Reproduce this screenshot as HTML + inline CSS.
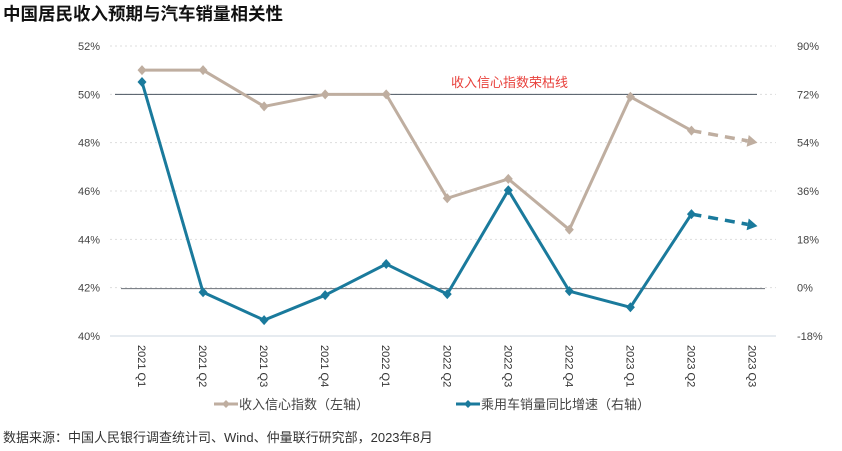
<!DOCTYPE html>
<html><head><meta charset="utf-8">
<style>
body{margin:0;background:#fff;width:842px;height:446px;overflow:hidden;font-family:"Liberation Sans","Noto Sans CJK SC",sans-serif;}
svg text{font-family:"Liberation Sans","Noto Sans CJK SC",sans-serif;}
</style></head>
<body>
<svg id="chart" width="842" height="446" viewBox="0 0 842 446" xmlns="http://www.w3.org/2000/svg">
<text x="3" y="20" font-size="17.5" font-weight="bold" fill="#111">中国居民收入预期与汽车销量相关性</text>
<g id="grid"></g><g id="axes"></g><g id="series"></g>
<text x="451" y="87" font-size="13" fill="#e8413c">收入信心指数荣枯线</text>
<g>
<g>
<line x1="214" y1="404" x2="238" y2="404" stroke="#bfaea0" stroke-width="3"/>
<path d="M226 400 L230 404 L226 408 L222 404Z" fill="#bfaea0"/>
<text x="239" y="409" font-size="13" fill="#444">收入信心指数（左轴）</text></g>
<g>
<line x1="456" y1="404" x2="480" y2="404" stroke="#1a7a9c" stroke-width="3"/>
<path d="M468 400 L472 404 L468 408 L464 404Z" fill="#1a7a9c"/>
<text x="481" y="409" font-size="13" fill="#444">乘用车销量同比增速（右轴）</text></g>
</g>
<text x="3" y="442" font-size="13" fill="#333">数据来源：中国人民银行调查统计司、Wind、仲量联行研究部，2023年8月</text>
</svg>
<script>
const categories=["2021 Q1","2021 Q2","2021 Q3","2021 Q4","2022 Q1","2022 Q2","2022 Q3","2022 Q4","2023 Q1","2023 Q2","2023 Q3"];
const incomeIndex=[51.0,51.0,49.5,50.0,50.0,45.7,46.5,44.4,49.9,48.5,48.0];
const carSalesYoY=[76.6,-1.7,-12.1,-2.8,8.8,-2.4,36.3,-1.3,-7.3,27.4,22.9];
const leftTicks=[40,42,44,46,48,50,52];
const rightTicks=[-18,0,18,36,54,72,90];
const forecastStart=9;
const NS="http://www.w3.org/2000/svg";
const yTop=46,yBot=336,x0=142,xStep=61.05;
const xS=i=>x0+i*xStep;
const yL=v=>yBot-(v-40)/12*(yBot-yTop);
const yR=v=>yBot-(v+18)/108*(yBot-yTop);
function mk(t,a,p){const e=document.createElementNS(NS,t);for(const k in a)e.setAttribute(k,a[k]);p.appendChild(e);return e;}
const grid=document.getElementById('grid'),axes=document.getElementById('axes'),ser=document.getElementById('series');
leftTicks.forEach((v,i)=>{
 const y=yL(v);
 if(i>0){const g=mk('line',{x1:110,x2:776,y1:y,y2:y,stroke:'#ddd','stroke-dasharray':'2,3'},grid);
 
 }
 const t=mk('text',{x:100,y:y+4,'font-size':11,fill:'#444','text-anchor':'end'},axes);t.textContent=v+'%';
 
 
});
rightTicks.forEach(v=>{
 const t=mk('text',{x:797,y:yR(v)+4,'font-size':11,fill:'#444'},axes);t.textContent=v+'%';
 
 
});
const base=mk('line',{x1:110,x2:776,y1:yBot,y2:yBot,stroke:'#e6ebf0','stroke-width':2},axes);


const l50=mk('line',{x1:115,x2:757,y1:yL(50),y2:yL(50),stroke:'#4a5560','stroke-width':1},axes);


const l0=mk('line',{x1:121,x2:765,y1:yR(0)+1,y2:yR(0)+1,stroke:'#6b7178','stroke-width':1},axes);


categories.forEach((c,i)=>{
 const t=mk('text',{x:0,y:0,'font-size':11,fill:'#333',transform:`translate(${xS(i)-4},345) rotate(90)`},axes);t.textContent=c;
 
 
});
function draw(vals,yf,color,name){
 const pts=vals.map((v,i)=>[xS(i),yf(v)]);
 const solid=pts.slice(0,forecastStart+1).map(p=>p.join(',')).join(' ');
 const pl=mk('polyline',{points:solid,fill:'none',stroke:color,'stroke-width':3,'stroke-linejoin':'round'},ser);
 
 
 const a=pts[forecastStart],b=[pts[forecastStart+1][0]+5,pts[forecastStart+1][1]];
 const dx=b[0]-a[0],dy=b[1]-a[1],L=Math.hypot(dx,dy),ux=dx/L,uy=dy/L;
 const ex=b[0]-ux*10,ey=b[1]-uy*10;
 const dl=mk('line',{x1:a[0],y1:a[1],x2:ex,y2:ey,stroke:color,'stroke-width':3.5,'stroke-dasharray':'10,7'},ser);
 
 
 const px=-uy,py=ux;
 const ar=mk('path',{d:`M${b[0]},${b[1]} L${ex+px*6},${ey+py*6} L${ex-px*6},${ey-py*6}Z`,fill:color},ser);
 
 
 pts.slice(0,forecastStart+1).forEach(p=>{
  const m=mk('path',{d:`M${p[0]},${p[1]-5} L${p[0]+4.5},${p[1]} L${p[0]},${p[1]+5} L${p[0]-4.5},${p[1]}Z`,fill:color},ser);
  
  
 });
}
draw(incomeIndex,yL,'#bfaea0','income-index');
draw(carSalesYoY,yR,'#1a7a9c','car-sales');
</script>
</body></html>
